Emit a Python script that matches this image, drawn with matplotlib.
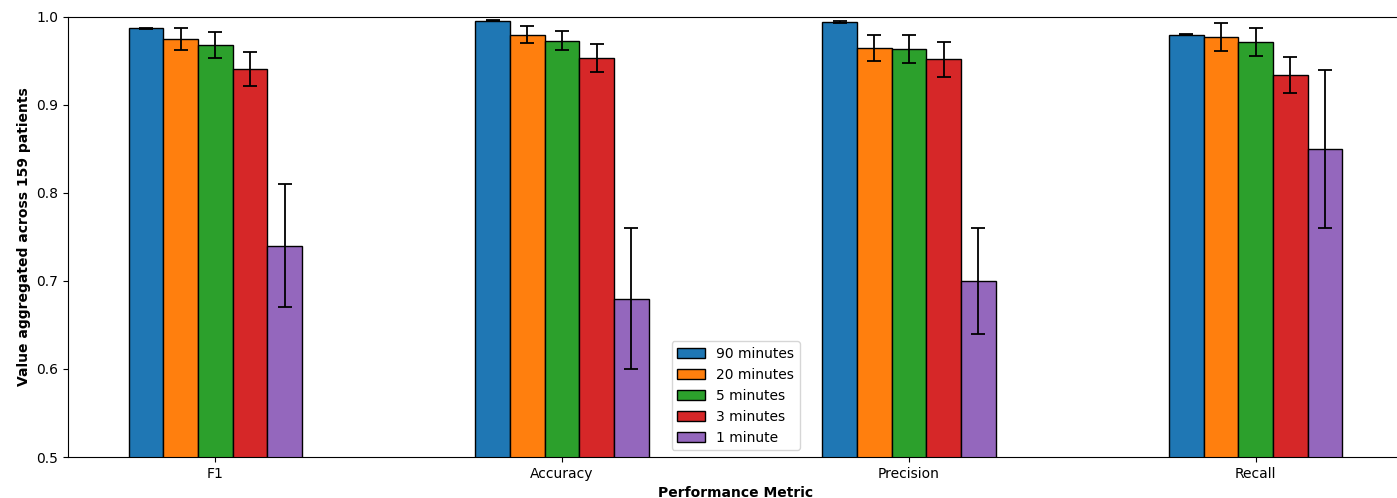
import numpy as np
import matplotlib
matplotlib.use('Agg')
import matplotlib.pyplot as plt

metrics = ['F1', 'Accuracy', 'Precision', 'Recall']
windows = ['90 minutes', '20 minutes', '5 minutes', '3 minutes', '1 minute']
colors = ['#1f77b4', '#ff7f0e', '#2ca02c', '#d62728', '#9467bd']

# mean value per window, one list per metric order above
means = {
    '90 minutes': [0.987, 0.996, 0.994, 0.980],
    '20 minutes': [0.975, 0.980, 0.965, 0.977],
    '5 minutes':  [0.968, 0.973, 0.964, 0.972],
    '3 minutes':  [0.941, 0.953, 0.952, 0.934],
    '1 minute':   [0.740, 0.680, 0.700, 0.850],
}
errs = {
    '90 minutes': [0.001, 0.001, 0.001, 0.001],
    '20 minutes': [0.012, 0.010, 0.015, 0.016],
    '5 minutes':  [0.015, 0.011, 0.016, 0.016],
    '3 minutes':  [0.019, 0.016, 0.020, 0.020],
    '1 minute':   [0.070, 0.080, 0.060, 0.090],
}

fig = plt.figure(figsize=(13.97, 4.98), dpi=100)
ax = fig.add_axes([68 / 1397, 41 / 498, 1335 / 1397, 440 / 498])

x = np.arange(len(metrics))
width = 0.1
for i, w in enumerate(windows):
    ax.bar(x + (i - 2) * width, means[w], width, yerr=errs[w], capsize=5,
           color=colors[i], edgecolor='black', linewidth=1,
           error_kw=dict(ecolor='black', elinewidth=1.3, capthick=1.3),
           label=w)

ax.set_ylim(0.5, 1.0)
ax.set_xlim(-0.425, 3.425)
ax.set_xticks(x)
ax.set_xticklabels(metrics)
ax.set_ylabel('Value aggregated across 159 patients', fontweight='bold')
ax.set_xlabel('Performance Metric', fontweight='bold')
ax.legend(loc='lower center')

fig.savefig('out.png', dpi=100)
